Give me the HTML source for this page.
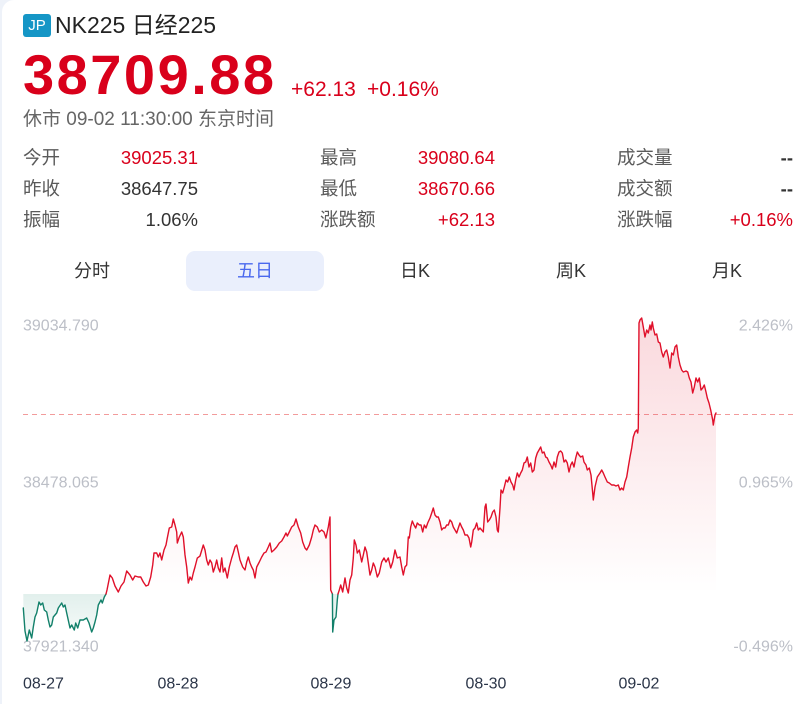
<!DOCTYPE html>
<html>
<head>
<meta charset="utf-8">
<style>
  html,body{margin:0;padding:0;}
  body{width:812px;height:704px;background:#eef2f9;overflow:hidden;position:relative;
       font-family:"Liberation Sans","Noto Sans CJK SC",sans-serif;}
  .card{position:absolute;left:2px;top:0;width:810px;height:704px;background:#fff;border-top-left-radius:12px;}
  .abs{position:absolute;white-space:nowrap;}
  .badge{left:23px;top:14px;width:28px;height:23px;background:#1596c6;border-radius:3px;color:#fff;
         font-size:15px;line-height:23px;text-align:center;}
  .title{left:55px;top:11px;font-size:23px;line-height:28px;color:#222;}
  .price{left:23px;top:43px;font-size:56px;line-height:64px;font-weight:bold;color:#d9001b;letter-spacing:2.5px;}
  .chg{top:78px;font-size:21px;line-height:24px;color:#d9001b;}
  .status{left:23px;top:108px;font-size:19px;line-height:24px;color:#666;}
  .lbl{font-size:18.5px;line-height:24px;color:#5a5a5a;}
  .val{font-size:18.5px;line-height:24px;color:#333;text-align:right;}
  .red{color:#d9001b;}
  .tab{font-size:18px;line-height:24px;color:#333;transform:translateX(-50%);top:259px;}
  .hl{left:186px;top:251px;width:138px;height:40px;background:#eaeffc;border-radius:9px;}
</style>
</head>
<body>
<div class="card"></div>

<div class="abs badge">JP</div>
<div class="abs title">NK225 日经225</div>
<div class="abs price">38709.88</div>
<div class="abs chg" style="left:291px;">+62.13</div>
<div class="abs chg" style="left:367px;">+0.16%</div>
<div class="abs status">休市 09-02 11:30:00 东京时间</div>

<!-- stats -->
<div class="abs lbl" style="left:23px;top:146px;">今开</div>
<div class="abs val red" style="right:614px;top:146px;">39025.31</div>
<div class="abs lbl" style="left:23px;top:177px;">昨收</div>
<div class="abs val" style="right:614px;top:177px;">38647.75</div>
<div class="abs lbl" style="left:23px;top:208px;">振幅</div>
<div class="abs val" style="right:614px;top:208px;">1.06%</div>

<div class="abs lbl" style="left:320px;top:146px;">最高</div>
<div class="abs val red" style="right:317px;top:146px;">39080.64</div>
<div class="abs lbl" style="left:320px;top:177px;">最低</div>
<div class="abs val red" style="right:317px;top:177px;">38670.66</div>
<div class="abs lbl" style="left:320px;top:208px;">涨跌额</div>
<div class="abs val red" style="right:317px;top:208px;">+62.13</div>

<div class="abs lbl" style="left:617px;top:146px;">成交量</div>
<div class="abs val" style="right:19px;top:146px;font-weight:bold;">--</div>
<div class="abs lbl" style="left:617px;top:177px;">成交额</div>
<div class="abs val" style="right:19px;top:177px;font-weight:bold;">--</div>
<div class="abs lbl" style="left:617px;top:208px;">涨跌幅</div>
<div class="abs val red" style="right:19px;top:208px;">+0.16%</div>

<!-- tabs -->
<div class="abs hl"></div>
<div class="abs tab" style="left:92px;">分时</div>
<div class="abs tab" style="left:255px;color:#4a68ee;">五日</div>
<div class="abs tab" style="left:415px;">日K</div>
<div class="abs tab" style="left:571px;">周K</div>
<div class="abs tab" style="left:727px;">月K</div>

<svg class="abs" style="left:0;top:0;" width="812" height="704" viewBox="0 0 812 704">
  <defs>
    <linearGradient id="gr" gradientUnits="userSpaceOnUse" x1="0" y1="318" x2="0" y2="594">
      <stop offset="0" stop-color="#e0102a" stop-opacity="0.16"/>
      <stop offset="1" stop-color="#e0102a" stop-opacity="0"/>
    </linearGradient>
    <linearGradient id="gg" gradientUnits="userSpaceOnUse" x1="0" y1="594" x2="0" y2="645">
      <stop offset="0" stop-color="#0b8063" stop-opacity="0.12"/>
      <stop offset="1" stop-color="#0b8063" stop-opacity="0.02"/>
    </linearGradient>
    <clipPath id="cTop"><rect x="0" y="0" width="812" height="594"/></clipPath>
    <clipPath id="cBot"><rect x="0" y="594" width="812" height="110"/></clipPath>
  </defs>

  <g font-family="Liberation Sans, sans-serif" font-size="16" fill="#bcbfc7" dominant-baseline="central">
    <text x="23" y="326">39034.790</text>
    <text x="23" y="483">38478.065</text>
    <text x="23" y="647">37921.340</text>
    <text x="793" y="326" text-anchor="end">2.426%</text>
    <text x="793" y="483" text-anchor="end">0.965%</text>
    <text x="793" y="647" text-anchor="end">-0.496%</text>
  </g>

  <line x1="23" y1="414.5" x2="795" y2="414.5" stroke="#f29b9b" stroke-width="1" stroke-dasharray="5,4"/>

  <g id="fills">
    <polygon clip-path="url(#cTop)" fill="url(#gr)" points="23.3,608 25,631 27,641 29.3,630 31.7,638 33.3,627 35,617 36.7,613 39,602 40.7,605 42.7,603 44.3,610 46.7,612 48.3,620 50,627 51.7,625 53.3,617 56.7,613 58.3,608 61.7,603 63.3,607 65,605 66.7,613 70,628 71.7,625 74.3,630 75.7,623 77.7,628 80,620 83.3,620 86.7,618 89,623 91.7,632 93.3,628 95,622 96.7,615 98.3,605 101,600 102.3,603 104.3,597 106,594 107,590 110,575 112.3,578 115,586 118.3,592 121,586 124,582 126.7,571 130,575 132.7,580 135,576 138.3,577 140.7,577 143.3,582 146,586 148.3,585 150.7,577 152.7,565 154,553 156.7,553 158.3,557 160,553 161.7,560 164,550 166,545 167.3,538 169.3,528 171.7,527 173.3,519 175,525 176.7,532 177.3,543 179.3,537 181.7,532 183.3,537 185,555 186.7,567 188.3,583 190,577 191.7,580 193.3,573 195,567 197.3,558 200,556 203.3,545 205,550 206.7,560 208.3,565 210,560 211.7,563 213.3,572 215,567 216.7,560 218.3,568 220,572 221.7,558 223.3,572 225,568 227.3,578 229.3,567 231.7,558 233.3,553 235,547 236.7,545 238.3,552 240,560 242.7,567 245,570 246.7,562 248.3,557 250,563 251.7,567 253.3,570 255,578 256.7,567 259.3,562 261.7,557 264,553 266,552 268.3,547 270,543 271.7,552 274,550 276.7,547 279.3,543 281.7,541 284,537 286,533 287.3,536 289.3,532 291.7,527 294,525 296,519 298.3,527 300.7,533 302.7,542 305,548 306.7,550 309.3,545 311.7,537 313.3,530 315,525 317.3,527 319.3,532 321.7,530 324,532 326,538 328.3,527 330,517 330.7,590 332.4,594 332.7,632 334,620 336,617 337.3,600 338,594 339.3,590 340.7,585 342.7,592 345,578 346.7,588 348.3,593 350,580 351.7,575 353.3,558 354.3,540 356,545 357.3,553 359.3,550 361.7,562 363.3,555 365,547 366.7,552 368.3,563 370,575 371.7,570 373.3,563 375,567 377.3,577 379.3,573 381.7,562 384,558 386,562 388.3,558 390.7,568 392.7,562 395,550 397.3,558 400,557 401.7,567 403.3,575 405,567 406.7,565 408.3,537 409.3,538 410.7,527 412.3,521 414,525 415.7,528 417.3,523 419.3,525 421,525 422.7,532 424.3,525 426,528 427.7,523 430,518 431.7,513 433.3,508 435,515 436.7,517 438.3,517 440,522 441.7,530 443.3,528 445,528 446.7,525 448.3,525 450,520 451.7,522 453.3,527 455,530 456.7,533 458.3,528 460,523 461.7,527 463.3,530 465,535 467.3,535 469,538 470.7,547 471.7,542 473.3,530 475,528 476.7,523 478.3,530 480,528 481.7,530 483.3,532 485,507 486,504 487.7,522 489.3,520 491,517 492.7,512 494.3,510 496,517 497.3,530 498.3,532 500,508 501,490 502.7,493 504.3,487 506,480 507.7,482 509.3,477 511,482 512.7,485 514,490 515.7,480 517.3,473 519,477 520.7,473 522.3,470 524,463 525.7,462 527.3,457 529,467 530.7,463 532.3,472 534,470 535.7,458 537.3,453 539,450 540.7,447 542.3,453 544,452 545.7,457 547.3,458 549,462 550.7,465 552.3,469 554,462 555.7,467 557.3,457 559,452 560.7,451 562.3,453 564,462 565.7,460 567.3,463 569,472 570.7,465 572.3,462 574,467 575.7,458 577.3,452 579,455 580.7,457 582.7,456 584,462 586,465 587.3,470 589.3,468 591,475 592.7,493 593.3,500 595,487 597.3,477 600,473 601.7,470 603.3,473 605,477 607.3,482 609.3,483 611.7,485 614,485 616,486 618.3,485 620,490 621.7,488 623.3,490 625,482 626.7,477 628.3,467 630,457 631.7,448 633.3,437 635,432 636.7,430 637.7,433 638.3,428 639,323 640,320 641.7,318 643.3,327 645,337 646.7,330 648.3,333 650,325 651,330 652.3,322 653.3,328 655,335 656.7,334 658.3,342 660,343 661.7,352 663.3,357 665,352 666.7,350 668.3,357 670,368 671.7,353 673.3,355 675,347 676.7,345 678.3,357 680,365 681.7,370 683.3,372 686,371 687.7,372 689.3,378 691,382 692.7,393 694.3,387 696,378 697.7,382 699.3,378 701,390 702.7,388 704.3,385 706,392 707.3,398 709,403 710.7,410 712.7,420 713.3,425 715,415 716,413 716,594 23.3,594"/>
    <polygon clip-path="url(#cBot)" fill="url(#gg)" points="23.3,608 25,631 27,641 29.3,630 31.7,638 33.3,627 35,617 36.7,613 39,602 40.7,605 42.7,603 44.3,610 46.7,612 48.3,620 50,627 51.7,625 53.3,617 56.7,613 58.3,608 61.7,603 63.3,607 65,605 66.7,613 70,628 71.7,625 74.3,630 75.7,623 77.7,628 80,620 83.3,620 86.7,618 89,623 91.7,632 93.3,628 95,622 96.7,615 98.3,605 101,600 102.3,603 104.3,597 106,594 330.7,594 332.4,594 332.7,632 334,620 336,617 337.3,600 338,594 716,594 23.3,594"/>
  </g>

  <g fill="none" stroke-width="1.4" stroke-linejoin="round" stroke-linecap="round">
    <polyline stroke="#12806a" points="23.3,608 25,631 27,641 29.3,630 31.7,638 33.3,627 35,617 36.7,613 39,602 40.7,605 42.7,603 44.3,610 46.7,612 48.3,620 50,627 51.7,625 53.3,617 56.7,613 58.3,608 61.7,603 63.3,607 65,605 66.7,613 70,628 71.7,625 74.3,630 75.7,623 77.7,628 80,620 83.3,620 86.7,618 89,623 91.7,632 93.3,628 95,622 96.7,615 98.3,605 101,600 102.3,603 104.3,597 106,594"/>
    <polyline stroke="#e0102a" points="106,594 107,590 110,575 112.3,578 115,586 118.3,592 121,586 124,582 126.7,571 130,575 132.7,580 135,576 138.3,577 140.7,577 143.3,582 146,586 148.3,585 150.7,577 152.7,565 154,553 156.7,553 158.3,557 160,553 161.7,560 164,550 166,545 167.3,538 169.3,528 171.7,527 173.3,519 175,525 176.7,532 177.3,543 179.3,537 181.7,532 183.3,537 185,555 186.7,567 188.3,583 190,577 191.7,580 193.3,573 195,567 197.3,558 200,556 203.3,545 205,550 206.7,560 208.3,565 210,560 211.7,563 213.3,572 215,567 216.7,560 218.3,568 220,572 221.7,558 223.3,572 225,568 227.3,578 229.3,567 231.7,558 233.3,553 235,547 236.7,545 238.3,552 240,560 242.7,567 245,570 246.7,562 248.3,557 250,563 251.7,567 253.3,570 255,578 256.7,567 259.3,562 261.7,557 264,553 266,552 268.3,547 270,543 271.7,552 274,550 276.7,547 279.3,543 281.7,541 284,537 286,533 287.3,536 289.3,532 291.7,527 294,525 296,519 298.3,527 300.7,533 302.7,542 305,548 306.7,550 309.3,545 311.7,537 313.3,530 315,525 317.3,527 319.3,532 321.7,530 324,532 326,538 328.3,527 330,517 330.7,590 332.4,594"/>
    <polyline stroke="#12806a" points="332.4,594 332.7,632 334,620 336,617 337.3,600 338,594"/>
    <polyline stroke="#e0102a" points="338,594 339.3,590 340.7,585 342.7,592 345,578 346.7,588 348.3,593 350,580 351.7,575 353.3,558 354.3,540 356,545 357.3,553 359.3,550 361.7,562 363.3,555 365,547 366.7,552 368.3,563 370,575 371.7,570 373.3,563 375,567 377.3,577 379.3,573 381.7,562 384,558 386,562 388.3,558 390.7,568 392.7,562 395,550 397.3,558 400,557 401.7,567 403.3,575 405,567 406.7,565 408.3,537 409.3,538 410.7,527 412.3,521 414,525 415.7,528 417.3,523 419.3,525 421,525 422.7,532 424.3,525 426,528 427.7,523 430,518 431.7,513 433.3,508 435,515 436.7,517 438.3,517 440,522 441.7,530 443.3,528 445,528 446.7,525 448.3,525 450,520 451.7,522 453.3,527 455,530 456.7,533 458.3,528 460,523 461.7,527 463.3,530 465,535 467.3,535 469,538 470.7,547 471.7,542 473.3,530 475,528 476.7,523 478.3,530 480,528 481.7,530 483.3,532 485,507 486,504 487.7,522 489.3,520 491,517 492.7,512 494.3,510 496,517 497.3,530 498.3,532 500,508 501,490 502.7,493 504.3,487 506,480 507.7,482 509.3,477 511,482 512.7,485 514,490 515.7,480 517.3,473 519,477 520.7,473 522.3,470 524,463 525.7,462 527.3,457 529,467 530.7,463 532.3,472 534,470 535.7,458 537.3,453 539,450 540.7,447 542.3,453 544,452 545.7,457 547.3,458 549,462 550.7,465 552.3,469 554,462 555.7,467 557.3,457 559,452 560.7,451 562.3,453 564,462 565.7,460 567.3,463 569,472 570.7,465 572.3,462 574,467 575.7,458 577.3,452 579,455 580.7,457 582.7,456 584,462 586,465 587.3,470 589.3,468 591,475 592.7,493 593.3,500 595,487 597.3,477 600,473 601.7,470 603.3,473 605,477 607.3,482 609.3,483 611.7,485 614,485 616,486 618.3,485 620,490 621.7,488 623.3,490 625,482 626.7,477 628.3,467 630,457 631.7,448 633.3,437 635,432 636.7,430 637.7,433 638.3,428 639,323 640,320 641.7,318 643.3,327 645,337 646.7,330 648.3,333 650,325 651,330 652.3,322 653.3,328 655,335 656.7,334 658.3,342 660,343 661.7,352 663.3,357 665,352 666.7,350 668.3,357 670,368 671.7,353 673.3,355 675,347 676.7,345 678.3,357 680,365 681.7,370 683.3,372 686,371 687.7,372 689.3,378 691,382 692.7,393 694.3,387 696,378 697.7,382 699.3,378 701,390 702.7,388 704.3,385 706,392 707.3,398 709,403 710.7,410 712.7,420 713.3,425 715,415 716,413"/>
  </g>

  <g font-family="Liberation Sans, sans-serif" font-size="16" fill="#2b3548" dominant-baseline="central">
    <text x="23" y="684">08-27</text>
    <text x="178" y="684" text-anchor="middle">08-28</text>
    <text x="331" y="684" text-anchor="middle">08-29</text>
    <text x="486" y="684" text-anchor="middle">08-30</text>
    <text x="639" y="684" text-anchor="middle">09-02</text>
  </g>
</svg>
</body>
</html>
